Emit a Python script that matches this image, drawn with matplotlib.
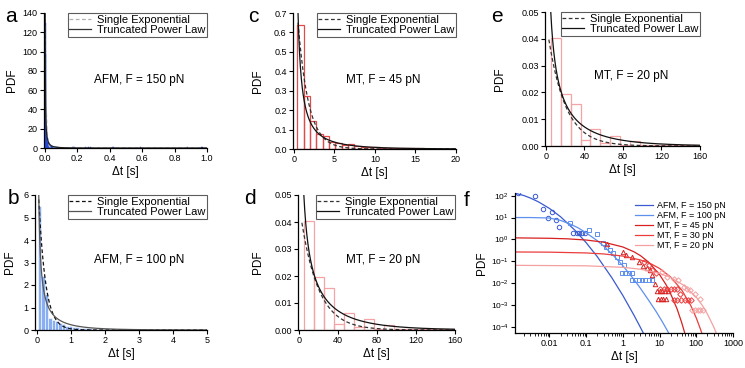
import numpy as np
import matplotlib
matplotlib.use("Agg")
import matplotlib.pyplot as plt
from matplotlib.ticker import FixedLocator, NullLocator, LogLocator

plt.rcParams['font.family'] = ['Liberation Sans', 'DejaVu Sans']
plt.rcParams['mathtext.fontset'] = 'custom'
plt.rcParams['mathtext.rm'] = 'Liberation Sans'
plt.rcParams['mathtext.it'] = 'Liberation Sans:italic'
plt.rcParams['mathtext.bf'] = 'Liberation Sans:bold'

# ---------------- data ----------------
# panel a: AFM, F = 150 pN
a_bin_start, a_bin_width = 0.0, 0.005
a_counts = [130, 98, 20, 10, 6, 4, 3, 2.2, 1.8, 1.4, 1.2, 1.0, 0.9, 0.8, 0.7, 0.6, 0.5, 0.5, 0.4, 0.4]
a_tail_t = [0.17, 0.18, 0.25, 0.27, 0.28, 0.42, 0.59, 0.88, 0.97]
a_tail_h = [0.9, 0.8, 0.8, 0.9, 0.8, 1.0, 0.8, 0.9, 0.8]
a_exp = (195.0, 0.006)            # A, tau
a_tpl = (0.0684, 1.23, 10.0)      # C, alpha, lambda

# panel b: AFM, F = 100 pN
b_bin_start, b_bin_width = 0.03, 0.1
b_counts = [5.5, 2.4, 1.6, 0.55, 0.45, 0.38, 0.3, 0.25, 0.2, 0.17, 0.14, 0.12, 0.1,
            0.09, 0.08, 0.07, 0.06, 0.05, 0.05, 0.04, 0.035, 0.03, 0.03, 0.025, 0.02]
b_tail_t = [2.75, 3.55, 3.75, 4.5]
b_tail_h = [0.025, 0.025, 0.025, 0.02]
b_exp = (7.45, 0.2)
b_tpl = (0.571, 0.8, 0.9)

# panel c: MT, F = 45 pN
c_bin_start, c_bin_width = 0.42, 0.78
c_counts = [0.64, 0.275, 0.145, 0.075, 0.065, 0.035, 0.03, 0.02, 0.025, 0.015, 0.012, 0.01,
            0.008, 0.007, 0.006, 0.005, 0.004, 0.004, 0.003, 0.003, 0.002, 0.002, 0.002, 0.001]
c_exp = (0.955, 1.3)
c_tpl = (0.377, 1.0, 0.15)

# panels d and e: MT, F = 20 pN
de_bin_start, de_bin_width = 5.4, 10.2
de_counts = [0.0402, 0.0195, 0.0155, 0.0022, 0.0062, 0.0010, 0.0039, 0.0005, 0.0020,
             0.0004, 0.0004, 0.0002, 0.0002, 0.0003, 0.0002]
de_exp = (0.047, 17.8)
de_tpl = (0.145, 0.6, 0.02)

# panel f: log-log PDFs (fit curves and data)
f_labels = ['AFM, F = 150 pN', 'AFM, F = 100 pN', 'MT, F = 45 pN', 'MT, F = 30 pN', 'MT, F = 20 pN']
f_colors = ['#3a5ad0', '#5e90ee', '#d82020', '#ec3c3c', '#f5a0a0']

fit150_t = [0.0012, 0.002, 0.003, 0.005, 0.01, 0.02, 0.05, 0.1, 0.2, 0.5, 1, 2, 3, 3.7]
fit150_y = [127, 101, 78, 52, 26, 10.9, 2.58, 0.71, 0.165, 0.0179, 0.00275, 3.5e-4, 9.7e-5, 4.9e-5]
fit100_t = [0.0012, 0.003, 0.01, 0.02, 0.036, 0.06, 0.1, 0.2, 0.3, 0.5, 1, 2, 3, 5, 8, 12, 18]
fit100_y = [10, 10, 9.5, 7.4, 5.1, 3.4, 2.0, 0.88, 0.49, 0.22, 0.063, 0.015, 0.0059, 0.0017,
            5.2e-4, 1.7e-4, 5.1e-5]
fit45_t = [0.0012, 0.01, 0.03, 0.1, 0.3, 1, 2, 3, 5, 10, 15, 20, 30, 40, 50]
fit45_y = [1.18, 1.13, 1.07, 0.94, 0.75, 0.453, 0.274, 0.183, 0.093, 0.0248, 0.0086, 0.0033,
           6.7e-4, 1.6e-4, 4.5e-5]
fit30_t = [0.0012, 0.01, 0.1, 0.3, 1, 3, 6, 10, 20, 40, 70, 100, 130, 150]
fit30_y = [0.268, 0.263, 0.242, 0.218, 0.174, 0.116, 0.0751, 0.0473, 0.0193, 0.00495, 0.0010,
           2.6e-4, 8.0e-5, 3.9e-5]
fit20_t = [0.0012, 0.1, 1, 3, 10, 20, 45, 100, 150, 200, 300, 350]
fit20_y = [0.0658, 0.0626, 0.0534, 0.0439, 0.0283, 0.0184, 0.0082, 0.0023, 9.1e-4, 4.0e-4,
           1.0e-4, 5.3e-5]

pts150_t = [0.0014, 0.0041, 0.0066, 0.0094, 0.012, 0.0152, 0.0177, 0.045, 0.055, 0.065, 0.075, 0.09]
pts150_y = [128, 100, 24, 9.2, 17, 7.7, 3.8, 1.9, 1.9, 1.9, 1.9, 1.9]
pts100_t = [0.036, 0.122, 0.195, 0.295, 0.35, 0.45, 0.55, 0.68, 0.84, 1.04, 0.94, 1.16, 1.43,
            1.76, 1.76, 2.17, 2.67, 3.3, 4.1, 5.0, 6.2]
pts100_y = [5.7, 2.7, 1.7, 0.66, 0.46, 0.32, 0.23, 0.16, 0.093, 0.066, 0.030, 0.030, 0.030,
            0.030, 0.0135, 0.0135, 0.0135, 0.0135, 0.0135, 0.0135, 0.0135]
pts45_t = [0.38, 1.0, 1.2, 1.76, 2.67, 3.6, 4.5, 5.4, 6.2, 7.6, 8.5, 10, 12, 14, 17, 9.3, 11, 12.5, 14.5]
pts45_y = [0.62, 0.27, 0.19, 0.16, 0.093, 0.06, 0.05, 0.039, 0.023, 0.0095, 0.0045, 0.0045,
           0.0045, 0.0045, 0.0045, 0.0019, 0.0019, 0.0019, 0.0019]
pts30_t = [3.66, 5.0, 6.2, 8.0, 10.5, 13, 16, 20, 25, 30, 37, 24, 30, 38, 48, 58, 70]
pts30_y = [0.093, 0.065, 0.042, 0.03, 0.0056, 0.0056, 0.0056, 0.0056, 0.0056, 0.0056, 0.0033,
           0.0018, 0.0018, 0.0018, 0.0018, 0.0018, 0.0018]
pts20_t = [11.6, 16, 24, 32, 45, 55, 69, 95, 130, 77, 92, 110, 130, 157]
pts20_y = [0.032, 0.019, 0.015, 0.0135, 0.0068, 0.0055, 0.0047, 0.0033, 0.0019, 0.00058,
           0.00058, 0.00058, 0.00058, 0.00058]

# ---------------- figure ----------------
W, H = 745, 368
fig = plt.figure(figsize=(W / 100, H / 100), dpi=100)


def rect(l, r, t, b):
    return [l / W, 1 - b / H, (r - l) / W, (b - t) / H]


def style(ax):
    for s in ['top', 'right']:
        ax.spines[s].set_visible(False)
    for s in ['left', 'bottom']:
        ax.spines[s].set_linewidth(0.9)
    ax.tick_params(direction='out', length=3, width=0.8, labelsize=6.5, pad=1.5)
    ax.tick_params(which='minor', direction='out', length=1.8, width=0.6)


def exp_fit(t, p):
    return p[0] * np.exp(-t / p[1])


def tpl_fit(t, p):
    return p[0] * t ** (-p[1]) * np.exp(-p[2] * t)


def bars(ax, start, width, counts, face, edge, lw):
    left = start + width * np.arange(len(counts))
    ax.bar(left, counts, width=width, align='edge', color=face, edgecolor=edge, linewidth=lw)


def legend(ax, exp_color, tpl_color):
    h1, = ax.plot([], [], ls=(0, (3, 2)), color=exp_color, lw=0.9)
    h2, = ax.plot([], [], ls='-', color=tpl_color, lw=0.9)
    leg = ax.legend([h1, h2], ['Single Exponential', 'Truncated Power Law'],
                    loc='upper right', bbox_to_anchor=(1.0, 1.0), borderaxespad=0,
                    fontsize=8, handlelength=2.0, handletextpad=0.5, borderpad=0.15,
                    labelspacing=0.05, fancybox=False, frameon=True)
    leg.get_frame().set_edgecolor('#333333')
    leg.get_frame().set_linewidth(0.8)


def labels(ax, rectpx, letter, letter_xy, pdf_x, note, note_xy):
    l, r, t, b = rectpx
    ax.set_xlabel('Δt [s]', fontsize=8.5, labelpad=2)
    ax.set_ylabel('PDF', fontsize=8.5)
    ax.yaxis.set_label_coords((pdf_x - l) / (r - l), 0.5)
    fig.text(letter_xy[0] / W, 1 - letter_xy[1] / H, letter, fontsize=15,
             ha='center', va='center')
    if note:
        ax.text((note_xy[0] - l) / (r - l), (b - note_xy[1]) / (b - t), note,
                transform=ax.transAxes, fontsize=8.5, ha='center', va='center')


# panel a
ra = (44, 207, 13, 148)
ax = fig.add_axes(rect(*ra))
style(ax)
bars(ax, a_bin_start, a_bin_width, a_counts, '#2348e0', '#2348e0', 0.3)
ax.bar(a_tail_t, a_tail_h, width=0.008, color='#2348e0', edgecolor='#2348e0', linewidth=0.3)
t = np.linspace(0.002, 1.0, 3000)
ax.plot(t, exp_fit(t, a_exp), ls=(0, (3, 2)), color='#b8b8b8', lw=0.9)
t = np.linspace(0.0018, 1.0, 3000)
ax.plot(t, tpl_fit(t, a_tpl), color='#222222', lw=0.9)
ax.set_xlim(-0.005, 1.0)
ax.set_ylim(0, 140)
ax.xaxis.set_major_locator(FixedLocator([0, 0.2, 0.4, 0.6, 0.8, 1.0]))
ax.yaxis.set_major_locator(FixedLocator([0, 20, 40, 60, 80, 100, 120, 140]))
ax.set_xticklabels(['0.0', '0.2', '0.4', '0.6', '0.8', '1.0'])
legend(ax, '#b0b0b0', '#333333')
labels(ax, ra, 'a', (11, 17), 18, 'AFM, F = 150 pN', (139, 80))

# panel b
rb = (35, 207, 195, 330)
ax = fig.add_axes(rect(*rb))
style(ax)
bars(ax, b_bin_start, b_bin_width, b_counts, '#8aaef2', '#ffffff', 0.4)
ax.bar(b_tail_t, b_tail_h, width=0.1, color='#a8c2f4', edgecolor='none')
t = np.linspace(0.05, 5, 2000)
ax.plot(t, exp_fit(t, b_exp), ls=(0, (3, 2)), color='#111111', lw=0.9)
t = np.linspace(0.045, 5, 2000)
ax.plot(t, tpl_fit(t, b_tpl), color='#555555', lw=0.9)
ax.set_xlim(-0.06, 5.0)
ax.set_ylim(0, 6)
ax.xaxis.set_major_locator(FixedLocator([0, 1, 2, 3, 4, 5]))
ax.yaxis.set_major_locator(FixedLocator([0, 1, 2, 3, 4, 5, 6]))
legend(ax, '#111111', '#555555')
labels(ax, rb, 'b', (13, 199), 16, 'AFM, F = 100 pN', (139, 260))

# panel c
rc = (293, 456, 13, 149)
ax = fig.add_axes(rect(*rc))
style(ax)
bars(ax, c_bin_start, c_bin_width, c_counts, 'none', '#e04a4a', 0.9)
t = np.linspace(0.5, 20, 2000)
ax.plot(t, exp_fit(t, c_exp), ls=(0, (3, 2)), color='#333333', lw=0.9)
ax.plot(t, tpl_fit(t, c_tpl), color='#111111', lw=0.9)
ax.set_xlim(-0.12, 20)
ax.set_ylim(0, 0.7)
ax.xaxis.set_major_locator(FixedLocator([0, 5, 10, 15, 20]))
ax.yaxis.set_major_locator(FixedLocator([0, 0.1, 0.2, 0.3, 0.4, 0.5, 0.6, 0.7]))
ax.set_yticklabels(['0.0', '0.1', '0.2', '0.3', '0.4', '0.5', '0.6', '0.7'])
legend(ax, '#333333', '#111111')
labels(ax, rc, 'c', (253, 17), 264, 'MT, F = 45 pN', (383, 80))

# panels d and e
for rr, letter, lxy, pdfx, note_xy in [((298, 455, 195, 330), 'd', (250, 199), 264, (383, 260)),
                                        ((545, 700, 12, 146), 'e', (497, 17), 506, (631, 76))]:
    ax = fig.add_axes(rect(*rr))
    style(ax)
    bars(ax, de_bin_start, de_bin_width, de_counts, 'none', '#f4a4a4', 0.9)
    t = np.linspace(3, 160, 2000)
    ax.plot(t, exp_fit(t, de_exp), ls=(0, (3, 2)), color='#333333', lw=0.9)
    t = np.linspace(5, 160, 2000)
    ax.plot(t, tpl_fit(t, de_tpl), color='#111111', lw=0.9)
    ax.set_xlim(-1, 160)
    ax.set_ylim(0, 0.05)
    ax.xaxis.set_major_locator(FixedLocator([0, 40, 80, 120, 160]))
    ax.yaxis.set_major_locator(FixedLocator([0, 0.01, 0.02, 0.03, 0.04, 0.05]))
    ax.set_yticklabels(['0.00', '0.01', '0.02', '0.03', '0.04', '0.05'])
    legend(ax, '#333333', '#111111')
    note = 'MT, F = 20 pN'
    labels(ax, rr, letter, lxy, pdfx, note, note_xy)

# panel f
rf = (515, 733, 193, 333)
ax = fig.add_axes(rect(*rf))
style(ax)
ax.set_xscale('log')
ax.set_yscale('log')
fits = [(fit150_t, fit150_y), (fit100_t, fit100_y), (fit45_t, fit45_y),
        (fit30_t, fit30_y), (fit20_t, fit20_y)]
pts = [(pts150_t, pts150_y, 'o'), (pts100_t, pts100_y, 's'), (pts45_t, pts45_y, '^'),
       (pts30_t, pts30_y, 'D'), (pts20_t, pts20_y, 'D')]
handles = []
for (ft, fy), (pt, py, mk), col, lab in zip(fits, pts, f_colors, f_labels):
    h, = ax.plot(ft, fy, color=col, lw=0.9, label=lab)
    handles.append(h)
    ax.plot(pt, py, ls='none', marker=mk, ms=3.2 if mk != 'D' else 2.8, mfc='none',
            mec=col, mew=0.7)
ax.set_xlim(0.00115, 1000)
ax.set_ylim(10 ** -4.27, 10 ** 2.12)
ax.xaxis.set_major_locator(FixedLocator([0.01, 0.1, 1, 10, 100, 1000]))
ax.set_xticklabels(['0.01', '0.1', '1', '10', '100', '1000'])
ax.xaxis.set_minor_locator(LogLocator(base=10, subs=np.arange(2, 10), numticks=20))
ax.yaxis.set_major_locator(FixedLocator([1e-4, 1e-3, 1e-2, 1e-1, 1, 10, 100]))
ax.set_yticklabels(['$10^{-4}$', '$10^{-3}$', '$10^{-2}$', '$10^{-1}$', '$10^{0}$',
                    '$10^{1}$', '$10^{2}$'])
ax.yaxis.set_minor_locator(NullLocator())
ax.tick_params(axis='y', labelsize=6)
leg = ax.legend(handles, f_labels, loc='upper left', bbox_to_anchor=((633 - 515) / 218, (333 - 199) / 140),
                frameon=False, fontsize=6.5, handlelength=2.0, handletextpad=0.5,
                labelspacing=0.12, borderpad=0.2, borderaxespad=0)
labels(ax, rf, 'f', (467, 201), 488, None, None)

fig.savefig('out.png', dpi=100)
